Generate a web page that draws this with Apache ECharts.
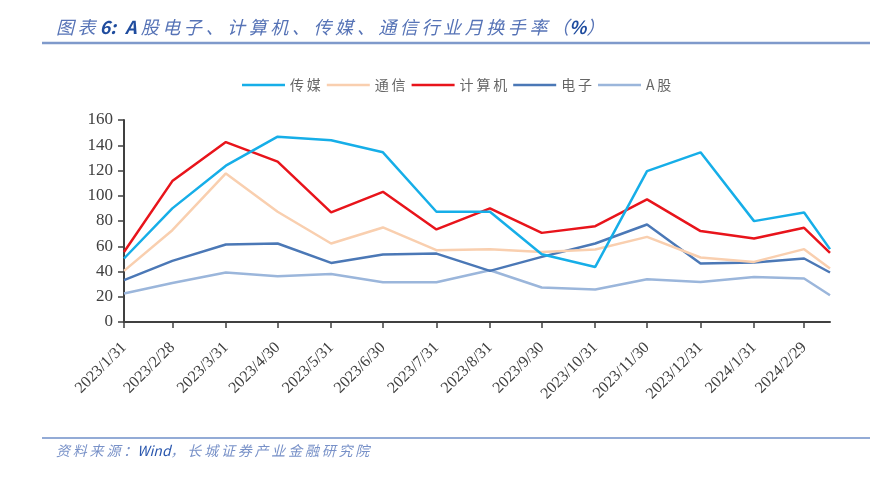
<!DOCTYPE html>
<html>
<head>
<meta charset="utf-8">
<script src="https://cdn.jsdelivr.net/npm/echarts@6/dist/echarts.min.js"></script>
<style>
html,body{margin:0;padding:0;background:#fff;}
#c{width:870px;height:492px;}
</style>
</head>
<body>
<div id="c"></div>
<script>
// observation dates (last one is a mid-month partial observation, no label)
const dates = ['2023/1/31','2023/2/28','2023/3/31','2023/4/30','2023/5/31','2023/6/30','2023/7/31','2023/8/31','2023/9/30','2023/10/31','2023/11/30','2023/12/31','2024/1/31','2024/2/29','2024/3/15'];
const tickLabels = ['2023/1/31','2023/2/28','2023/3/31','2023/4/30','2023/5/31','2023/6/30','2023/7/31','2023/8/31','2023/9/30','2023/10/31','2023/11/30','2023/12/31','2024/1/31','2024/2/29'];
const seriesNames = ['传媒','通信','计算机','电子','A股'];
const media   = [50.3, 90.0, 123.8, 146.8, 144.0, 134.4, 87.3, 87.3, 53.7, 43.6, 119.5, 134.4, 79.9, 86.8, 57.7];
const telecom = [40.5, 72.7, 117.7, 87.3, 62.2, 74.9, 56.9, 57.7, 55.5, 57.4, 67.4, 51.1, 47.6, 57.7, 42.4];
const computer= [55.5, 111.6, 142.5, 127.0, 86.8, 103.1, 73.3, 90.0, 70.6, 75.9, 97.1, 72.0, 66.2, 74.6, 54.7];
const electronics = [33.1, 48.4, 61.4, 62.2, 46.8, 53.4, 54.2, 40.5, 51.6, 62.2, 77.2, 46.3, 47.1, 50.3, 39.2];
const aShare  = [22.5, 30.9, 39.2, 36.3, 38.1, 31.5, 31.5, 41.0, 27.3, 25.7, 33.9, 31.7, 35.7, 34.4, 21.2];

// day offsets from first date (UTC arithmetic, avoids DST effects)
function dayNum(s){ const p = s.split('/').map(Number); return Date.UTC(p[0], p[1]-1, p[2]) / 86400000; }
const d0 = dayNum(dates[0]);
const xDays = dates.map(s => dayNum(s) - d0);
const tickDays = tickLabels.map(s => dayNum(s) - d0);
const labelMap = {};
tickLabels.forEach((l,i)=>{ labelMap[tickDays[i]] = l; });

const colors = ['#16AEE8','#F9CFAF','#E8141B','#4B78B6','#9BB6DB'];
const values = [media, telecom, computer, electronics, aShare];

const sp = s => s.split('').join('\u2009');

const chart = echarts.init(document.getElementById('c'));
chart.setOption({
  animation: false,
  backgroundColor: '#fff',
  color: colors,
  legend: {
    top: 73,
    left: 237,
    icon: 'rect',
    itemWidth: 43,
    itemHeight: 2.5,
    itemGap: 6,
    textStyle: { fontFamily: 'Noto Sans CJK SC', fontSize: 14, color: '#666666' },
    formatter: n => sp(n),
    data: seriesNames
  },
  grid: { left: 124, right: 40, top: 120, bottom: 170, containLabel: false },
  xAxis: {
    type: 'value',
    min: xDays[0],
    max: xDays[xDays.length-1],
    splitLine: { show: false },
    axisLine: { show: true, onZero: false, lineStyle: { color: '#404040', width: 2 } },
    axisTick: { show: true, length: 6, lineStyle: { color: '#404040', width: 1.5 }, customValues: tickDays },
    axisLabel: {
      customValues: tickDays,
      rotate: 45,
      margin: 23,
      fontFamily: 'Liberation Serif',
      fontSize: 16,
      color: '#404040',
      formatter: function(v){ return labelMap[v] || ''; }
    }
  },
  yAxis: {
    type: 'value',
    min: 0, max: 160, interval: 20,
    splitLine: { show: false },
    axisLine: { show: true, lineStyle: { color: '#404040', width: 2 } },
    axisTick: { show: true, length: 6, lineStyle: { color: '#404040', width: 1.5 } },
    axisLabel: { fontFamily: 'Liberation Serif', fontSize: 17, color: '#404040', margin: 11 }
  },
  series: seriesNames.map((n,i)=>({
    name: n,
    type: 'line',
    symbol: 'none',
    lineStyle: { width: 2.5, color: colors[i] },
    data: values[i].map((v,j)=>[xDays[j], v]),
    z: 10 - i
  })),
  graphic: [
    { type: 'line', shape: { x1: 42, y1: 43, x2: 870, y2: 43 }, style: { stroke: '#7F9ACB', lineWidth: 2.5 } },
    { type: 'text', left: 56, top: 18, style: {
        text: '{a|' + sp('图表') + ' }{b|6:\u2002A}{a| ' + sp('股电子、计算机、传媒、通信行业月换手率（') + '}{b|%}{a|）}',
        rich: {
          a: { fontFamily: 'Noto Sans CJK SC', fontSize: 18, fontStyle: 'italic', fill: '#5673B6' },
          b: { fontFamily: 'Noto Sans CJK SC', fontSize: 18, fontStyle: 'italic', fontWeight: 'bold', fill: '#1F4C9E' }
        }
    } },
    { type: 'line', shape: { x1: 42, y1: 438, x2: 870, y2: 438 }, style: { stroke: '#6F8FC9', lineWidth: 1.5 } },
    { type: 'text', left: 56, top: 444, style: {
        text: '{a|' + sp('资料来源：') + '}{b|Wind}{a|' + sp('，长城证券产业金融研究院') + '}',
        rich: {
          a: { fontFamily: 'Noto Sans CJK SC', fontSize: 14, fontStyle: 'italic', fill: '#7891C8' },
          b: { fontFamily: 'Noto Sans CJK SC', fontSize: 14, fontStyle: 'italic', fill: '#2A57AE' }
        }
    } }
  ]
});
</script>
</body>
</html>
